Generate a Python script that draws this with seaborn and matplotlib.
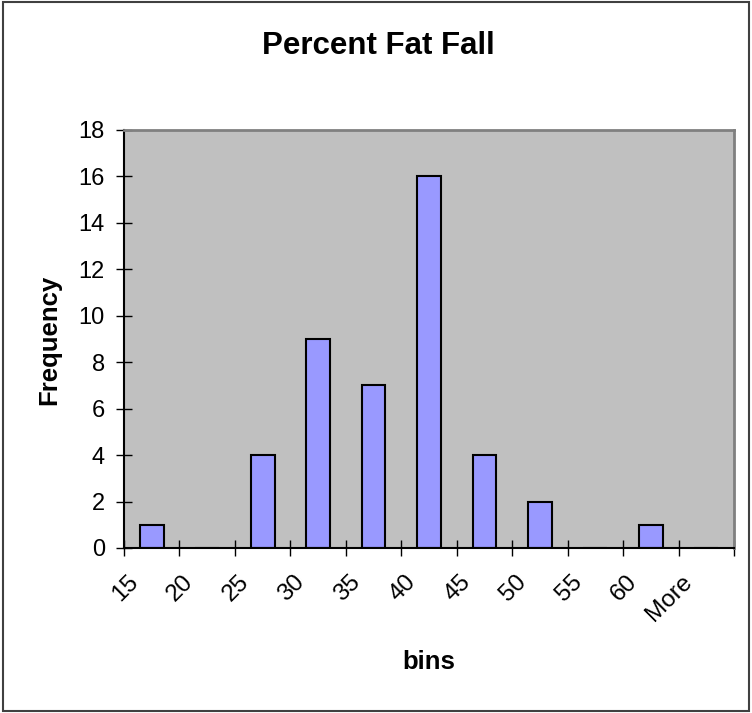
import matplotlib
matplotlib.use("Agg")
import matplotlib.pyplot as plt
import matplotlib.patches as patches
import matplotlib.transforms as mtransforms
import pandas as pd
import seaborn as sns

bins = ['15', '20', '25', '30', '35', '40', '45', '50', '55', '60', 'More']
frequency = [1, 0, 4, 9, 7, 16, 4, 2, 0, 1, 0]

df = pd.DataFrame({'bins': bins, 'Frequency': frequency})

sns.set_theme(style="white")
plt.rcParams['font.family'] = ['Liberation Sans', 'DejaVu Sans']

fig = plt.figure(figsize=(7.52, 7.13), dpi=100)
W, H = 752, 713
ax = fig.add_axes([124 / W, 1 - 548 / H, (734 - 124) / W, (548 - 130) / H])
ax.set_facecolor('#C0C0C0')

sns.barplot(data=df, x='bins', y='Frequency', color='#9999FF', saturation=1,
            width=0.43, edgecolor='black', linewidth=1.5, ax=ax)

ax.set_xlim(-0.5, len(bins) - 0.5)
ax.set_ylim(0, 18)
ax.set_yticks(range(0, 19, 2))
ax.tick_params(axis='y', left=True, labelsize=17, direction='inout',
               length=11.5, width=1, color='black', pad=8, labelcolor='black')

# tick marks on category boundaries, labels on category centres
ax.set_xticks([i - 0.5 for i in range(len(bins) + 1)])
ax.set_xticklabels([])
ax.set_xticks(range(len(bins)), minor=True)
ax.set_xticklabels(bins, minor=True, rotation=45, ha='right', va='center',
                   rotation_mode='anchor', fontsize=17.5)
ax.tick_params(axis='x', which='major', bottom=True, direction='inout',
               length=11.5, width=1, color='black')
ax.tick_params(axis='x', which='minor', bottom=True, length=0, pad=22,
               labelcolor='black')
offset = mtransforms.ScaledTranslation(-17 / 100, 0, fig.dpi_scale_trans)
for lab in ax.get_xticklabels(minor=True):
    lab.set_transform(lab.get_transform() + offset)

for side in ['left', 'bottom']:
    ax.spines[side].set_color('black')
    ax.spines[side].set_linewidth(1.5)
for side in ['top', 'right']:
    ax.spines[side].set_color('#808080')
    ax.spines[side].set_linewidth(2)

ax.set_xlabel('')
ax.set_ylabel('')
fig.text(378 / W, 1 - 46 / H, 'Percent Fat Fall', ha='center', va='center',
         fontsize=22.5, fontweight='bold', color='black')
fig.text(429 / W, 1 - 662 / H, 'bins', ha='center', va='center',
         fontsize=18.5, fontweight='bold', color='black')
fig.text(49 / W, 1 - 340 / H, 'Frequency', ha='center', va='center',
         rotation=90, fontsize=18.5, fontweight='bold', color='black')

fig.patches.append(patches.Rectangle((3 / W, 2 / H), 746 / W, 709 / H,
                                     transform=fig.transFigure, fill=False,
                                     edgecolor='#404040', linewidth=1.5))

fig.savefig('out.png', dpi=100)
